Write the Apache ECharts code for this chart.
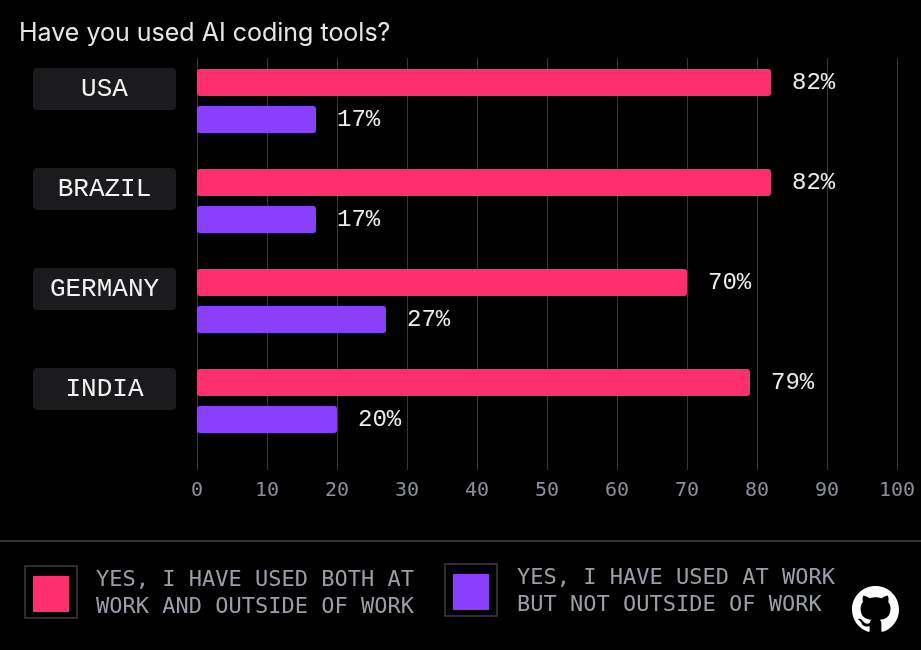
<!DOCTYPE html>
<html>
<head>
<meta charset="utf-8">
<script src="https://cdn.jsdelivr.net/npm/echarts@6/dist/echarts.min.js"></script>
<style>
html,body{margin:0;padding:0;background:#000;}
#chart{width:921px;height:650px;}
</style>
</head>
<body>
<div id="chart"></div>
<script>
var titleText = 'Have you used AI coding tools?';
var categories = ['USA', 'BRAZIL', 'GERMANY', 'INDIA'];
var seriesNames = ['YES, I HAVE USED BOTH AT\nWORK AND OUTSIDE OF WORK', 'YES, I HAVE USED AT WORK\nBUT NOT OUTSIDE OF WORK'];
var bothValues = [82, 82, 70, 79];
var workOnlyValues = [17, 17, 27, 20];
var xMin = 0, xMax = 100, xInterval = 10;

var PINK = '#ff2e6e';
var PURPLE = '#8a3ffc';
var MONO = '"DejaVu Sans Mono", monospace';
var MONO2 = '"Liberation Mono", "DejaVu Sans Mono", monospace';

var ghPath = 'M8 0C3.58 0 0 3.58 0 8c0 3.54 2.29 6.530 5.47 7.59.4.07.55-.17.55-.38 0-.19-.01-.82-.01-1.49-2.01.37-2.53-.49-2.69-.94-.09-.23-.48-.94-.82-1.13-.28-.15-.68-.52-.01-.53.63-.01 1.08.58 1.23.82.72 1.21 1.87.87 2.33.66.07-.52.28-.87.51-1.07-1.78-.2-3.64-.89-3.64-3.95 0-.87.31-1.59.82-2.15-.08-.2-.36-1.02.08-2.12 0 0 .67-.21 2.2.82.64-.18 1.32-.27 2-.27.68 0 1.36.09 2 .27 1.53-1.04 2.2-.82 2.2-.82.44 1.1.16 1.92.08 2.12.51.56.82 1.27.82 2.15 0 3.07-1.87 3.75-3.65 3.95.29.25.54.73.54 1.48 0 1.07-.01 1.93-.01 2.2 0 .21.15.46.55.38A8.013 8.013 0 0016 8c0-4.42-3.58-8-8-8z';
var ghSvg = 'data:image/svg+xml;charset=utf-8,' + encodeURIComponent(
  '<svg xmlns="http://www.w3.org/2000/svg" viewBox="0 0 16 16" width="47" height="47"><path fill="#ffffff" d="' + ghPath + '"/></svg>');

var chart = echarts.init(document.getElementById('chart'), null, {renderer: 'canvas'});

var option = {
  backgroundColor: '#000000',
  animation: false,
  title: {
    text: titleText,
    left: 14,
    top: 16,
    textStyle: {color: '#e6e6e6', fontFamily: 'Inter, "Noto Sans", sans-serif', fontSize: 25, fontWeight: 'normal'}
  },
  legend: [
    {
      data: [seriesNames[0]],
      left: 28, top: 562,
      icon: 'rect', itemWidth: 36, itemHeight: 36,
      selectedMode: false,
      textStyle: {color: '#9a9ea6', fontFamily: MONO, fontSize: 22, lineHeight: 27, padding: [0, 0, 0, 22]}
    },
    {
      data: [seriesNames[1]],
      left: 448, top: 560,
      icon: 'rect', itemWidth: 36, itemHeight: 36,
      selectedMode: false,
      textStyle: {color: '#9a9ea6', fontFamily: MONO, fontSize: 22, lineHeight: 27, padding: [0, 0, 0, 23]}
    }
  ],
  grid: [
    {left: 197, right: 24, top: 51, height: 400},
    {left: 197, right: 24, top: 58, height: 412}
  ],
  xAxis: [
    {
      gridIndex: 0, type: 'value', min: xMin, max: xMax, interval: xInterval,
      axisLine: {show: false}, axisTick: {show: false}, axisLabel: {show: false}, splitLine: {show: false}
    },
    {
      gridIndex: 1, type: 'value', min: xMin, max: xMax, interval: xInterval,
      axisLine: {show: false}, axisTick: {show: false},
      axisLabel: {color: '#8c9199', fontFamily: MONO, fontSize: 20, margin: 11},
      splitLine: {show: true, lineStyle: {color: '#383838', width: 1}}
    }
  ],
  yAxis: [
    {
      gridIndex: 0, type: 'category', data: categories, inverse: true,
      axisLine: {show: false}, axisTick: {show: false}, splitLine: {show: false},
      axisLabel: {
        margin: 21,
        padding: [0, 0, 24, 0],
        formatter: function (v) { return '{b|' + v + '}'; },
        rich: {
          b: {
            width: 143, height: 42, lineHeight: 42,
            align: 'center', verticalAlign: 'middle',
            backgroundColor: '#1b1b1d', borderRadius: 4,
            color: '#f2f2f2', fontFamily: MONO2, fontSize: 26
          }
        }
      }
    },
    {
      gridIndex: 1, type: 'value', show: false, min: 0, max: 1
    }
  ],
  series: [
    {
      name: seriesNames[0], type: 'bar', xAxisIndex: 0, yAxisIndex: 0,
      data: bothValues, barWidth: 27, barGap: '37%',
      itemStyle: {color: PINK, borderRadius: 3},
      label: {show: true, position: 'right', distance: 21, formatter: '{c}%', color: '#ececec', fontFamily: MONO2, fontSize: 24}
    },
    {
      name: seriesNames[1], type: 'bar', xAxisIndex: 0, yAxisIndex: 0,
      data: workOnlyValues, barWidth: 27, barGap: '37%',
      itemStyle: {color: PURPLE, borderRadius: 3},
      label: {show: true, position: 'right', distance: 21, formatter: '{c}%', color: '#ececec', fontFamily: MONO2, fontSize: 24}
    }
  ],
  graphic: [
    {type: 'line', shape: {x1: 0, y1: 541, x2: 921, y2: 541}, style: {stroke: '#444444', lineWidth: 1.5}},
    {type: 'rect', shape: {x: 25, y: 566, width: 52, height: 52}, style: {fill: 'none', stroke: '#3c3c3c', lineWidth: 1.5}},
    {type: 'rect', shape: {x: 445, y: 564, width: 52, height: 52}, style: {fill: 'none', stroke: '#3c3c3c', lineWidth: 1.5}},
    {type: 'image', style: {image: ghSvg, x: 852, y: 586, width: 47, height: 47}}
  ]
};

chart.setOption(option);
</script>
</body>
</html>
